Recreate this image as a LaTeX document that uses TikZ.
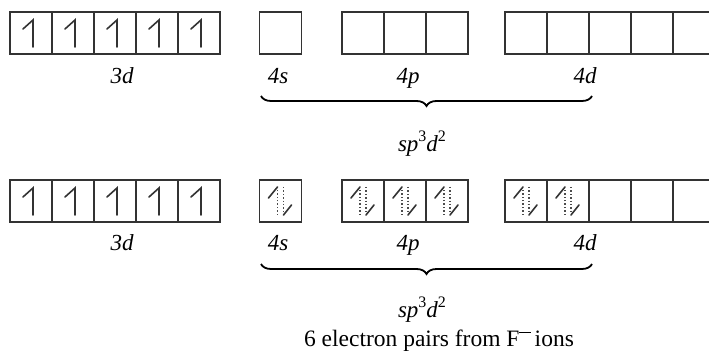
\documentclass[tikz,border=0pt]{standalone}
\usepackage{fontspec}
\setmainfont{Liberation Serif}
\usetikzlibrary{decorations.pathreplacing}
\newcommand{\supr}[1]{\raisebox{0.45em}{\fontsize{16}{16}\selectfont\upshape #1}}
\begin{document}
\begin{tikzpicture}[x=1pt,y=1pt,
  orb/.style={draw=black!80,line width=1.5pt,minimum size=42pt,inner sep=0pt,outer sep=0pt},
  lab/.style={font=\fontsize{23}{26}\selectfont\itshape,anchor=base},
  txt/.style={font=\fontsize{23.5}{26}\selectfont,anchor=base},
  harp/.style={line width=1.6pt,draw=black!80,line cap=round},
  dots/.style={line width=1.4pt,draw=black!70,dotted},
  brc/.style={decorate,decoration={brace,mirror,amplitude=10pt},line width=1.8pt}]
\useasboundingbox (0,0) rectangle (709,-352);
\clip (0,0) rectangle (709,-352);
% rows
\foreach \r/\y in {t/-33,b/-201}{
  \foreach \i/\x in {1/31,2/73,3/115,4/157,5/199}{\node[orb] (\r d3\i) at (\x,\y) {};}
  \node[orb] (\r s) at (280.5,\y) {};
  \foreach \i/\x in {1/363,2/405,3/447}{\node[orb] (\r p\i) at (\x,\y) {};}
  \foreach \i/\x in {1/526,2/568,3/610,4/652,5/694}{\node[orb] (\r d4\i) at (\x,\y) {};}
}
% single up harpoons in 3d
\foreach \r in {t,b}{
  \foreach \i in {1,2,3,4,5}{
    \draw[harp] ([xshift=2pt,yshift=-14pt]\r d3\i.center) -- ++(0,27) -- ++(-10,-9);
  }
}
% electron pairs
\foreach \n in {bs,bp1,bp2,bp3,bd41,bd42}{
  \draw[dots] ([xshift=-3pt,yshift=-14pt]\n.center) -- ([xshift=-3pt,yshift=13pt]\n.center);
  \draw[harp] ([xshift=-3pt,yshift=14pt]\n.center) -- ++(-9,-11);
  \draw[dots] ([xshift=3pt,yshift=14pt]\n.center) -- ([xshift=3pt,yshift=-13pt]\n.center);
  \draw[harp] ([xshift=3pt,yshift=-14pt]\n.center) -- ++(8,10);
}
% labels
\node[lab] (l1) at (122,-84) {3d};
\node[lab] (l2) at (278,-84) {4s};
\node[lab] (l3) at (408,-84) {4p};
\node[lab] (l4) at (585,-84) {4d};
\node[lab] (m1) at (122,-251) {3d};
\node[lab] (m2) at (278,-251) {4s};
\node[lab] (m3) at (408,-251) {4p};
\node[lab] (m4) at (585,-251) {4d};
% braces
\coordinate (ta) at (261,-96);
\coordinate (tb) at (592,-96);
\draw[brc] (ta) -- (tb);
\coordinate (ba) at (261,-264);
\coordinate (bb) at (592,-264);
\draw[brc] (ba) -- (bb);
\node[lab] (h1) at (422,-152) {sp\supr{3}d\supr{2}};
\node[lab] (h2) at (422,-318) {sp\supr{3}d\supr{2}};
\node[txt] (note) at (439,-346) {6 electron pairs from F\raisebox{0.55em}{\rule{0.5em}{1.2pt}}\kern0.15em ions};
\end{tikzpicture}
\end{document}
